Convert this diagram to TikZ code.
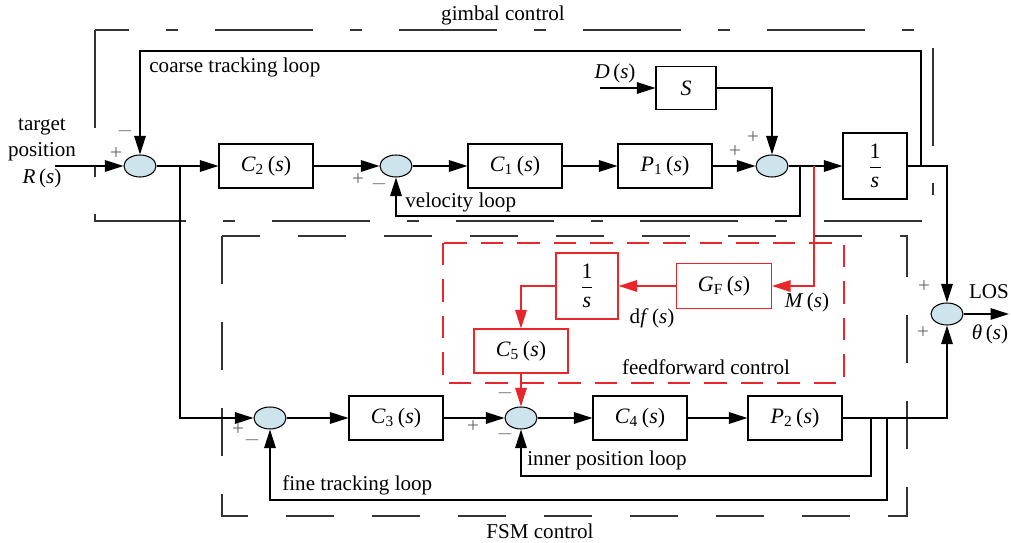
\documentclass[tikz,border=0pt]{standalone}
\usepackage{fontspec}
\setmainfont{Liberation Serif}
\usetikzlibrary{arrows.meta,shapes.geometric}
\definecolor{sumfill}{HTML}{CDE4EC}
\definecolor{ffred}{HTML}{E8262B}
\newcommand{\tfn}[2]{\textit{#1}\textsubscript{#2}\,(\textit{s})}
\newcommand{\integ}{$\displaystyle\frac{\mbox{1}}{\mbox{\itshape s}}$}
\tikzset{
  blk/.style={draw, line width=0.6pt, minimum width=1.88cm, minimum height=0.88cm, inner sep=0, font=\fontsize{12.5}{14}\selectfont},
  sumnode/.style={ellipse, draw, line width=0.6pt, fill=sumfill, minimum width=0.64cm, minimum height=0.44cm, inner sep=0},
  sig/.style={line width=0.85pt, -{Triangle[length=0.37cm,width=0.23cm]}},
  ffsig/.style={sig, draw=ffred, -{Triangle[length=0.37cm,width=0.23cm,fill=ffred]}},
  lbl/.style={inner sep=0, font=\fontsize{12}{15}\selectfont},
  pm/.style={inner sep=0, text=black!60, font=\fontsize{12}{12}\selectfont},
}
\begin{document}
\begin{tikzpicture}[x=0.02cm,y=-0.02cm]
\useasboundingbox (0,0) rectangle (1011,543);
% dashed frames
\draw[black!80, line width=0.6pt, dash pattern=on 1.96cm off 0.74cm on 0.24cm off 0.74cm] (95,30) rectangle (933,221);
\draw[black!80, line width=0.6pt, dash pattern=on 0.96cm off 0.76cm] (222,236) rectangle (907,516);
\draw[ffred, line width=0.6pt, dash pattern=on 0.45cm off 0.28cm] (443,243) rectangle (844,383);
% gimbal part
\node[sumnode] (sum1) at (140,166) {};
\node[blk] (c2) at (266,166) {\tfn{C}{2}};
\node[sumnode] (sum2) at (396,166) {};
\node[blk] (c1) at (515,166) {\tfn{C}{1}};
\node[blk] (p1) at (665,166) {\tfn{P}{1}};
\node[sumnode] (sum3) at (772,166) {};
\node[blk, minimum width=1.2cm, minimum height=0.86cm] (sblk) at (686,88) {\textit{S}};
\node[blk, minimum width=1.28cm, minimum height=1.32cm] (int1) at (875,166) {\integ};
\node[sumnode] (sumout) at (947,314) {};
% feedforward part
\node[blk, draw=ffred, minimum width=1.9cm, minimum height=0.9cm] (gf) at (724,286) {\textit{G}\textsubscript{F}\,(\textit{s})};
\node[blk, draw=ffred, minimum width=1.24cm, minimum height=1.32cm] (int2) at (587,286) {\integ};
\node[blk, draw=ffred] (c5) at (521,351) {\tfn{C}{5}};
% FSM part
\node[sumnode] (sum4) at (270,418) {};
\node[blk] (c3) at (396,418) {\tfn{C}{3}};
\node[sumnode] (sum5) at (521,418) {};
\node[blk] (c4) at (640,418) {\tfn{C}{4}};
\node[blk] (p2) at (795,418) {\tfn{P}{2}};

\coordinate (in) at (55,166);
\coordinate (dsrc) at (600,88);
\coordinate (tapf) at (180,166);
\coordinate (tapv) at (800,166);
\coordinate (tapm) at (814,166);
\coordinate (tapc) at (921,166);
\coordinate (tapi) at (871,418);
\coordinate (tapt) at (887,418);
\coordinate (out) at (1009,314);

\draw[sig] (in) -- (sum1);
\draw[sig] (sum1) -- (c2);
\draw[sig] (c2) -- (sum2);
\draw[sig] (sum2) -- (c1);
\draw[sig] (c1) -- (p1);
\draw[sig] (p1) -- (sum3);
\draw[sig] (sum3) -- (int1);
\draw[sig] (dsrc) -- (sblk);
\draw[sig] (sblk.east) -| (sum3.north);
\draw[sig] (int1.east) -| (sumout.north);
\draw[sig] (tapc) -- ++(0,-115) -| (sum1.north);
\draw[sig] (tapv) -- ++(0,50) -| (sum2.south);
\draw[ffsig] (tapm) |- (gf.east);
\draw[ffsig] (gf) -- (int2);
\draw[ffsig] (int2.west) -| (c5.north);
\draw[ffsig] (c5) -- (sum5);
\draw[sig] (tapf) |- (sum4.west);
\draw[sig] (sum4) -- (c3);
\draw[sig] (c3) -- (sum5);
\draw[sig] (sum5) -- (c4);
\draw[sig] (c4) -- (p2);
\draw[sig] (p2.east) -| (sumout.south);
\draw[sig] (tapi) -- ++(0,58) -| (sum5.south);
\draw[sig] (tapt) -- ++(0,82) -| (sum4.south);
\draw[sig] (sumout) -- (out);

% texts
\node[lbl, align=center] (rlbl) at (42,153) {target\\position\\\textit{R}\,(\textit{s})};
\node[lbl] (gimlbl) at (503,15) {gimbal control};
\node[lbl, anchor=west] (coarselbl) at (149,67) {coarse tracking loop};
\node[lbl, anchor=west] (vellbl) at (405,202) {velocity loop};
\node[lbl] (dlbl) at (615,73) {\textit{D}\,(\textit{s})};
\node[lbl] (mlbl) at (807,302) {\textit{M}\,(\textit{s})};
\node[lbl] (dflbl) at (652,318) {d\textit{f}\,(\textit{s})};
\node[lbl] (fflbl) at (706,367) {feedforward control};
\node[lbl, anchor=west] (innerlbl) at (527,460) {inner position loop};
\node[lbl, anchor=west] (finelbl) at (282,485) {fine tracking loop};
\node[lbl] (fsmlbl) at (540,531) {FSM control};
\node[lbl] (loslbl) at (989,292) {LOS};
\node[lbl] (thlbl) at (990,334) {\textit{θ}\,(\textit{s})};
% signs
\node[pm] at (116,154) {+};
\node[pm] at (125,131) {$-$};
\node[pm] at (358,180) {+};
\node[pm] at (379,184) {$-$};
\node[pm] at (735,152) {+};
\node[pm] at (753,138) {+};
\node[pm] at (238,430) {+};
\node[pm] at (252,440) {$-$};
\node[pm] at (473,427) {+};
\node[pm] at (505,393) {$-$};
\node[pm] at (505,434) {$-$};
\node[pm] at (924,287) {+};
\node[pm] at (923,333) {+};
\end{tikzpicture}
\end{document}
